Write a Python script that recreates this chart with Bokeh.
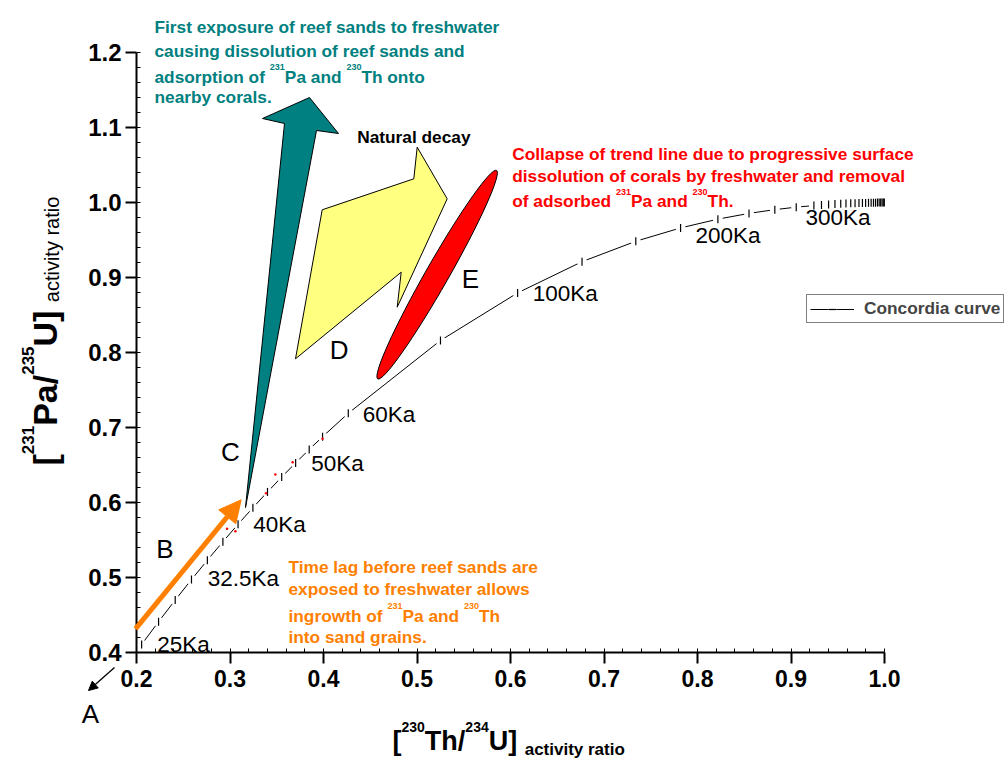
import math
from bokeh.plotting import figure
from bokeh.models import (Range1d, Label, Arrow, NormalHead, Legend, LegendItem,
                          FixedTicker, PrintfTickFormatter, ColumnDataSource)
from bokeh.embed import file_html
from bokeh.resources import INLINE

# ---------------- data ----------------
age_ka = [25, 27.5, 30, 32.5, 35, 37.5, 40, 42.5, 45, 47.5, 50, 52.5, 55, 60, 80, 100,
          120, 140, 160, 180, 200, 220, 240, 260, 270, 280, 290, 300, 310, 320, 330,
          340, 350, 360, 370, 380, 390, 400, 410, 420, 430, 440, 450, 460]
th230_u234 = [0.2055, 0.2236, 0.2414, 0.2588, 0.2758, 0.2924, 0.3086, 0.3245, 0.3401,
              0.3553, 0.3702, 0.3847, 0.3990, 0.4265, 0.5251, 0.6076, 0.6765, 0.7340,
              0.7819, 0.8218, 0.8551, 0.8827, 0.9056, 0.9245, 0.9326, 0.9402, 0.9470,
              0.9532, 0.9588, 0.9639, 0.9685, 0.9727, 0.9764, 0.9798, 0.9829, 0.9857,
              0.9882, 0.9904, 0.9925, 0.9943, 0.9959, 0.9974, 0.9987, 0.9998]
pa231_u235 = [0.4107, 0.4411, 0.4699, 0.4972, 0.5231, 0.5477, 0.5710, 0.5931, 0.6141,
              0.6340, 0.6528, 0.6707, 0.6877, 0.7190, 0.8160, 0.8795, 0.9211, 0.9483,
              0.9661, 0.9778, 0.9855, 0.9905, 0.9938, 0.9959, 0.9967, 0.9973, 0.9979,
              0.9983, 0.9986, 0.9989, 0.9991, 0.9993, 0.9994, 0.9995, 0.9996, 0.9997,
              0.9998, 0.9998, 0.9999, 0.9999, 0.9999, 1.0000, 1.0000, 1.0000]
sample_th = [0.2969, 0.3058, 0.3386, 0.3485, 0.3670, 0.3990]
sample_pa = [0.5649, 0.5617, 0.6124, 0.6373, 0.6537, 0.6849]

age_labels = ["25Ka", "32.5Ka", "40Ka", "50Ka", "60Ka", "100Ka", "200Ka", "300Ka"]
x_ticks = [0.2, 0.3, 0.4, 0.5, 0.6, 0.7, 0.8, 0.9, 1.0]
y_ticks = [0.4, 0.5, 0.6, 0.7, 0.8, 0.9, 1.0, 1.1, 1.2]

teal_text = [
    [("First exposure of reef sands to freshwater", "m")],
    [("causing dissolution of reef sands and", "m")],
    [("adsorption of ", "m"), ("231", "s"), ("Pa and ", "m"), ("230", "s"), ("Th onto", "m")],
    [("nearby corals.", "m")],
]
red_text = [
    [("Collapse of trend line due to progressive surface", "m")],
    [("dissolution of corals by freshwater and removal", "m")],
    [("of adsorbed ", "m"), ("231", "s"), ("Pa and ", "m"), ("230", "s"), ("Th.", "m")],
]
orange_text = [
    [("Time lag before reef sands are", "m")],
    [("exposed to freshwater allows", "m")],
    [("ingrowth of ", "m"), ("231", "s"), ("Pa and ", "m"), ("230", "s"), ("Th", "m")],
    [("into sand grains.", "m")],
]

# ---------------- layout helpers ----------------
W, H = 1004, 759
FL, FT, FW, FH = 136, 52, 748, 600          # where the axes box sits on the canvas
X0, X1, Y0, Y1 = 0.2, 1.0, 0.4, 1.2
FONT = "Liberation Sans"


def dx(px):
    return X0 + (px - FL) * (X1 - X0) / FW


def dy(py):
    return Y0 + (FT + FH - py) * (Y1 - Y0) / FH


W_REG = {' ': 278, '.': 278, '/': 278, '[': 278, ']': 278, 'A': 667, 'B': 667, 'C': 722,
         'D': 722, 'E': 667, 'F': 611, 'K': 667, 'P': 667, 'T': 611, 'U': 722, 'a': 556,
         'b': 556, 'c': 500, 'd': 556, 'e': 556, 'f': 278, 'g': 556, 'h': 556, 'i': 222,
         'k': 500, 'l': 222, 'm': 833, 'n': 556, 'o': 556, 'p': 556, 'r': 333, 's': 500,
         't': 278, 'u': 556, 'v': 500, 'w': 722, 'x': 500, 'y': 500}
W_BOLD = {' ': 278, '.': 278, '/': 278, '[': 333, ']': 333, 'A': 722, 'C': 722, 'F': 611,
          'N': 722, 'P': 667, 'T': 611, 'U': 722, 'a': 556, 'b': 611, 'c': 556, 'd': 611,
          'e': 556, 'f': 333, 'g': 611, 'h': 611, 'i': 278, 'k': 556, 'l': 278, 'm': 889,
          'n': 611, 'o': 611, 'p': 611, 'r': 389, 's': 556, 't': 333, 'u': 611, 'v': 556,
          'w': 778, 'x': 556, 'y': 556}


def text_w(s, size, bold):
    tab = W_BOLD if bold else W_REG
    return sum(tab.get(c, 556) for c in s) * size / 1000.0


def rich(p, x_px, base_px, segs, color, rotated=False):
    """segs: (text, size, bold, raise_px)"""
    pos = x_px if not rotated else base_px
    for text, size, bold, rz in segs:
        if not rotated:
            lbl = Label(x=dx(pos), y=dy(base_px - rz), text=text, text_color=color,
                        text_font=FONT, text_font_size=f"{size}px",
                        text_font_style="bold" if bold else "normal",
                        text_align="left", text_baseline="alphabetic")
            pos += text_w(text, size, bold)
        else:
            lbl = Label(x=dx(x_px - rz), y=dy(pos), text=text, text_color=color,
                        text_font=FONT, text_font_size=f"{size}px",
                        text_font_style="bold" if bold else "normal",
                        angle=math.pi / 2, text_align="left", text_baseline="alphabetic")
            pos -= text_w(text, size, bold)
        p.add_layout(lbl)


def paragraph(p, x_px, baselines, lines, color, size=17.3, sup=9, sup_raise=9.5):
    for base, line in zip(baselines, lines):
        segs = []
        for text, kind in line:
            if kind == "m":
                segs.append((text, size, True, 0))
            else:
                segs.append((text, sup, True, sup_raise))
        rich(p, x_px, base, segs, color)


# ---------------- figure (frame = whole canvas, axes at fixed locations) ----------------
p = figure(width=W, height=H, x_range=Range1d(dx(0), dx(W)), y_range=Range1d(dy(H), dy(0)),
           output_backend="svg", toolbar_location=None,
           min_border_left=0, min_border_right=0, min_border_top=0, min_border_bottom=0)
p.outline_line_color = None
p.xgrid.visible = False
p.ygrid.visible = False
p.background_fill_color = "white"
p.border_fill_color = "white"

xa = p.xaxis[0]
ya = p.yaxis[0]
xa.fixed_location = Y0
ya.fixed_location = X0
xa.bounds = (X0, X1)
ya.bounds = (Y0, Y1)
xa.ticker = FixedTicker(ticks=x_ticks, minor_ticks=[round(0.2 + 0.02 * i, 2) for i in range(41)])
ya.ticker = FixedTicker(ticks=y_ticks, minor_ticks=[round(0.4 + 0.02 * i, 2) for i in range(41)])
for ax in (xa, ya):
    ax.formatter = PrintfTickFormatter(format="%.1f")
    ax.axis_line_width = 2
    ax.axis_line_color = "black"
    ax.major_tick_line_width = 2
    ax.major_tick_line_color = "black"
    ax.major_tick_in = 0
    ax.major_tick_out = 11
    ax.minor_tick_in = 4
    ax.minor_tick_out = 0
    ax.minor_tick_line_width = 1
    ax.minor_tick_line_color = "black"
    ax.major_label_text_font = FONT
    ax.major_label_text_font_style = "bold"
    ax.major_label_text_color = "black"
xa.major_label_text_font_size = "23px"
xa.major_label_standoff = 6
ya.major_label_text_font_size = "24px"
ya.major_label_standoff = 4

# ---------------- concordia curve ----------------
src = ColumnDataSource(dict(x=th230_u234, y=pa231_u235, age=age_ka))
r_line = p.line("x", "y", source=src, line_color="black", line_width=1)
r_gap = p.scatter("x", "y", source=src, marker="circle", size=10,
                  fill_color="white", line_color=None)
r_tick = p.scatter("x", "y", source=src, marker="dash", angle=math.pi / 2, size=8,
                   line_color="black", line_width=1.2)
p.scatter(sample_th, sample_pa, marker="circle", size=2.5, fill_color="red", line_color=None)

legend = Legend(items=[LegendItem(label="Concordia curve", renderers=[r_line, r_gap, r_tick])],
                location=(806, H - 323.3), margin=0, padding=3, spacing=0,
                glyph_width=44, glyph_height=20, label_standoff=10, label_height=20,
                label_text_font=FONT, label_text_font_style="bold",
                label_text_font_size="17.3px", border_line_color="black",
                border_line_width=1.5, background_fill_color="white", background_fill_alpha=1)
p.add_layout(legend)

# ---------------- shapes ----------------
teal_px = [(245, 507), (284, 123), (262, 118), (309, 97), (338, 133), (316, 130)]
p.patch([dx(a) for a, b in teal_px], [dy(b) for a, b in teal_px],
        fill_color="#008080", line_color="black", line_width=1)

yellow_px = [(295, 358.3), (321.7, 209.3), (413.3, 178.3), (416.7, 146.7), (446.7, 198.3),
             (396.7, 306.7), (400.7, 271.7)]
p.patch([dx(a) for a, b in yellow_px], [dy(b) for a, b in yellow_px],
        fill_color="#FFFF80", line_color="black", line_width=1)

p.ellipse(x=[dx(436.65)], y=[dy(274.15)], width=240, height=23, angle=1.0528,
          width_units="screen", height_units="screen",
          fill_color="#FF0000", line_color="black", line_width=1)

orange = "#FF8000"
p.add_layout(Arrow(end=NormalHead(size=22, fill_color=orange, line_color=orange),
                   x_start=dx(135), y_start=dy(628.3), x_end=dx(240.7), y_end=dy(499.3),
                   line_color=orange, line_width=5))
p.add_layout(Arrow(end=NormalHead(size=9, fill_color="black", line_color="black"),
                   x_start=dx(114), y_start=dy(667), x_end=dx(88), y_end=dy(690),
                   line_color="black", line_width=1.3))

# ---------------- labels ----------------
age_pos = [(156.7, 644), (207.3, 578), (252.7, 524), (310.7, 463), (362.3, 414),
           (532.3, 293), (695, 235), (805, 217)]
for txt, (ax_, ay_) in zip(age_labels, age_pos):
    p.add_layout(Label(x=dx(ax_), y=dy(ay_), text=txt, text_font=FONT, text_font_size="22.5px",
                       text_color="black", text_align="left", text_baseline="middle"))

for txt, (lx, ly) in zip(["A", "B", "C", "D", "E"],
                         [(90, 713), (164.5, 548.7), (230, 451.7), (338.7, 349.3), (470, 278.3)]):
    p.add_layout(Label(x=dx(lx), y=dy(ly), text=txt, text_font=FONT, text_font_size="26px",
                       text_color="black", text_align="center", text_baseline="middle"))

rich(p, 356.7, 136.7, [("Natural decay", 17.3, True, 0)], "black")

paragraph(p, 154, [26.7, 50, 76, 96.7], teal_text, "#008080")
paragraph(p, 511.7, [153.3, 175, 200.7], red_text, "#FF0000")
paragraph(p, 288, [566.7, 588.3, 615, 636.7], orange_text, orange)

# axis titles
rich(p, 392, 740, [("[", 27, True, 0), ("230", 14, True, 14), ("Th/", 27, True, 0),
                   ("234", 14, True, 14), ("U]", 27, True, 0), (" ", 27, True, 0),
                   ("activity ratio", 17, True, -9)], "black")
rich(p, 44, 465, [("[", 34, True, 0), ("231", 17, True, 17), ("Pa/", 34, True, 0),
                  ("235", 17, True, 17), ("U]", 34, True, 0), (" ", 30, True, 0),
                  ("activity ratio", 20, False, -7)], "black", rotated=True)

open("out.html", "w").write(file_html(p, INLINE))
